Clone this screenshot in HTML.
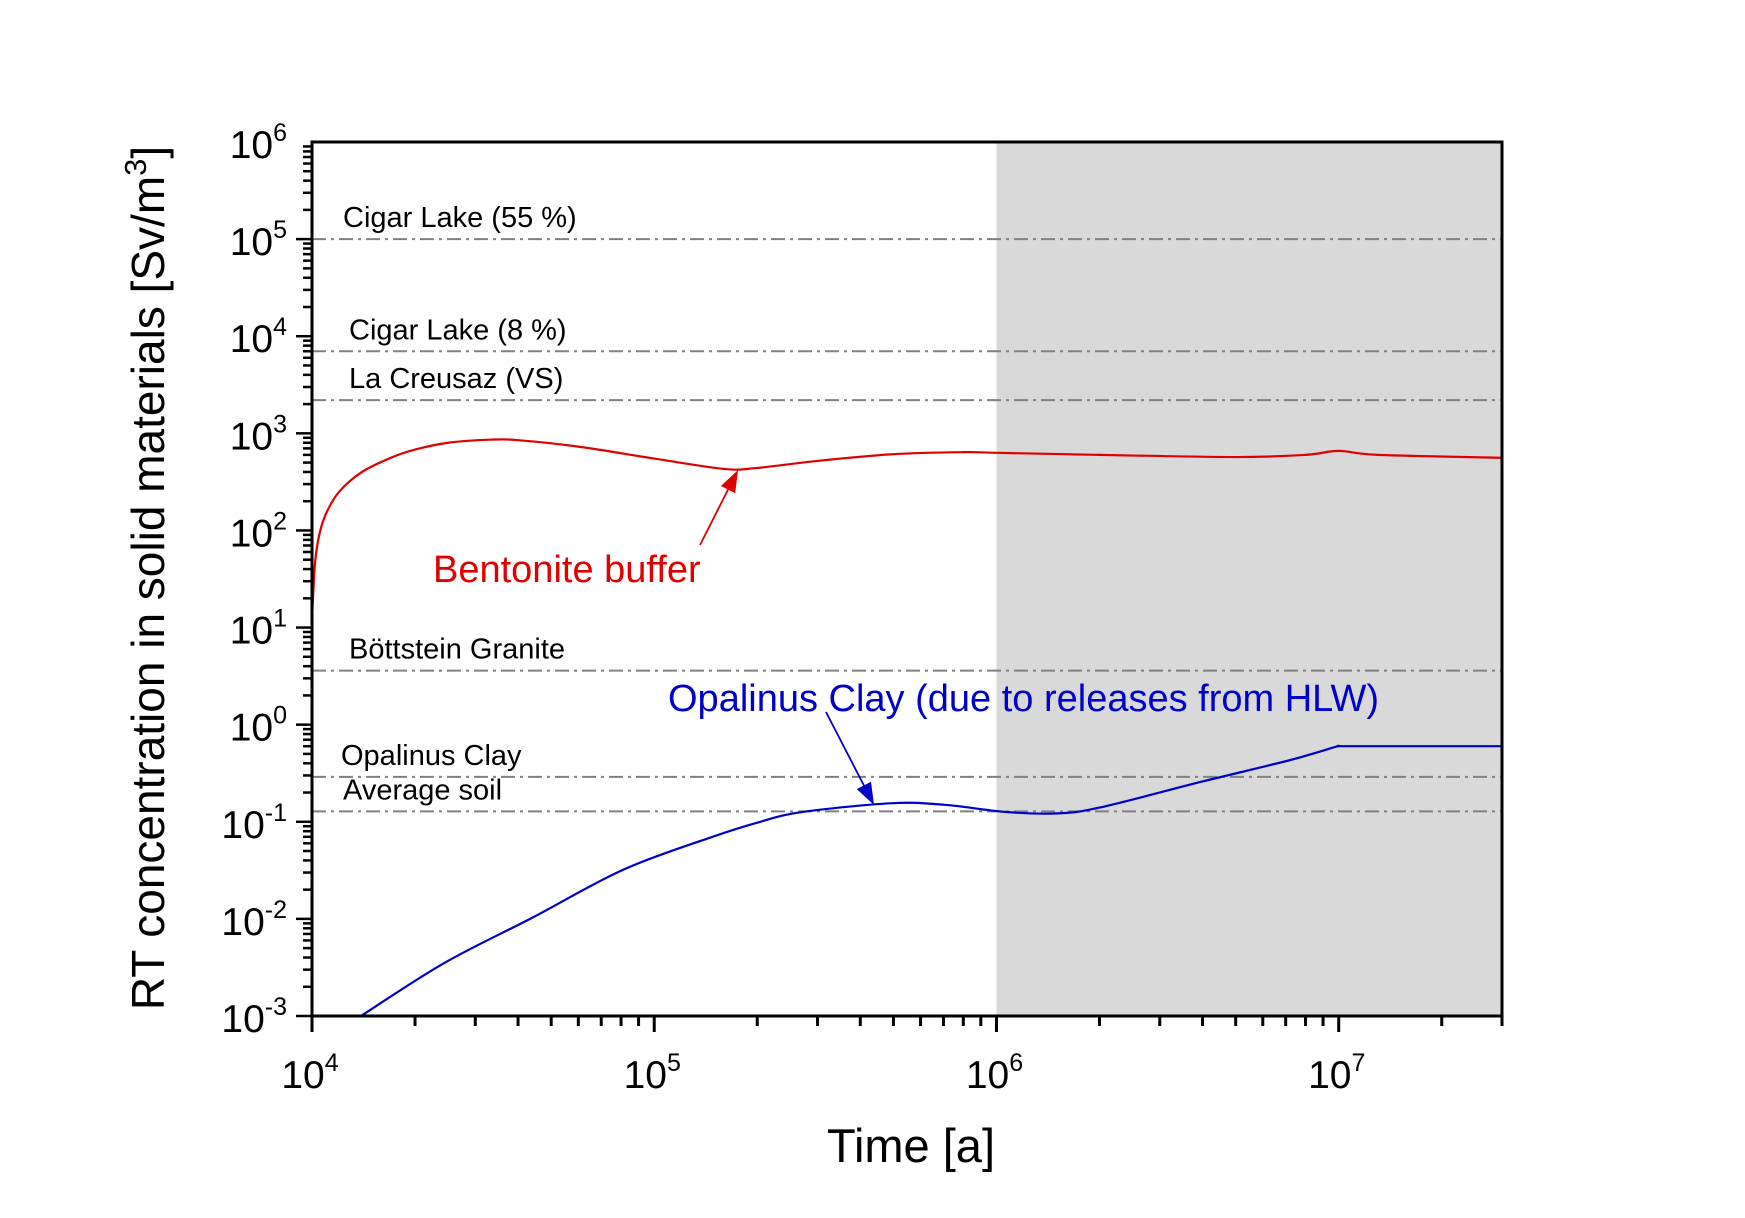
<!DOCTYPE html>
<html><head><meta charset="utf-8"><style>
html,body{margin:0;padding:0;background:#fff;}
svg{display:block;font-family:"Liberation Sans",Arial,sans-serif;}
</style></head><body>
<svg id="chart" width="1745" height="1218" viewBox="0 0 1745 1218" xmlns="http://www.w3.org/2000/svg">
<rect width="1745" height="1218" fill="#fff"/>
<g id="bg"></g>
<g id="refs"></g>
<g id="series"></g>
<g id="axes"></g>
<text transform="translate(164,578) rotate(-90)" text-anchor="middle" font-size="46" fill="#000">RT concentration in solid materials [Sv/m<tspan dy="-18" font-size="31">3</tspan><tspan dy="18">]</tspan></text>
<text x="911" y="1162" text-anchor="middle" font-size="47" fill="#000">Time [a]</text>
<text x="433" y="582" font-size="38" fill="#e00000">Bentonite buffer</text>
<text x="668" y="711" font-size="38" fill="#0000cc">Opalinus Clay (due to releases from HLW)</text>
</svg>
<script>
const refNames=["Cigar Lake (55 %)","Cigar Lake (8 %)","La Creusaz (VS)","Böttstein Granite","Opalinus Clay","Average soil"];
const refValues=[1e5,7e3,2.2e3,3.6,0.29,0.128];
const bentX=[1e4,1.02e4,1.05e4,1.1e4,1.2e4,1.4e4,1.7e4,2e4,2.5e4,3.3e4,4e4,6e4,1e5,1.6e5,2e5,3e5,5e5,8e5,1e6,2e6,5e6,8e6,1e7,1.3e7,3e7];
const bentY=[12,45,90,150,250,400,560,680,800,860,850,730,550,430,440,520,610,640,630,600,570,600,660,600,560];
const opalX=[1.39e4,2.43e4,4.43e4,8.1e4,1.48e5,2e5,2.7e5,4.9e5,7e5,1.07e6,1.5e6,2e6,4e6,7e6,9e6,1e7,1.1e7,3e7];
const opalY=[0.001,0.0035,0.0104,0.032,0.07,0.098,0.126,0.155,0.15,0.126,0.122,0.14,0.26,0.42,0.54,0.6,0.6,0.6];
const xTicks=[4,5,6,7];
const yTicks=[-3,-2,-1,0,1,2,3,4,5,6];
const NS="http://www.w3.org/2000/svg";
const L=312,R=1502,T=142,B=1016;
const xmin=4,xmax=Math.log10(3e7),ymin=-3,ymax=6;
const xs=v=>L+(Math.log10(v)-xmin)/(xmax-xmin)*(R-L);
const ys=v=>B-(Math.log10(v)-ymin)/(ymax-ymin)*(B-T);
function mk(tag,attrs,parent){const e=document.createElementNS(NS,tag);for(const k in attrs)e.setAttribute(k,attrs[k]);document.getElementById(parent).appendChild(e);return e;}
let sh=mk('rect',{x:xs(1e6),y:T,width:R-xs(1e6),height:B-T,fill:'#d9d9d9'},'bg');


const labX=[343,349,349,349,341,343];
refValues.forEach((v,i)=>{
 let ln=mk('line',{x1:L,x2:R,y1:ys(v),y2:ys(v),stroke:'#808080','stroke-width':2,'stroke-dasharray':'14,5,3,5'},'refs');
 
 
 let t=mk('text',{x:labX[i],y:ys(v)-12,'font-size':29,fill:'#000'},'refs');
 t.textContent=refNames[i];
 
 
});
function curve(X,Y,col,name){
 const p=X.map((x,i)=>[xs(x),ys(Y[i])]);
 let d='M'+p[0][0]+','+p[0][1];
 for(let i=0;i<p.length-1;i++){
  const p0=p[Math.max(0,i-1)],p1=p[i],p2=p[i+1],p3=p[Math.min(p.length-1,i+2)];
  const c1=[p1[0]+(p2[0]-p0[0])/6,p1[1]+(p2[1]-p0[1])/6];
  const c2=[p2[0]-(p3[0]-p1[0])/6,p2[1]-(p3[1]-p1[1])/6];
  d+=' C'+c1+' '+c2+' '+p2;
 }
 let e=mk('path',{d:d,fill:'none',stroke:col,'stroke-width':2.2},'series');
 
 
}
curve(bentX,bentY,'#e00000','bentonite-buffer-line');
curve(opalX,opalY,'#0000cc','opalinus-clay-line');
function arrow(x1,y1,x2,y2,col,name){
 const a=Math.atan2(y2-y1,x2-x1),len=22,w=8;
 let l=mk('line',{x1:x1,y1:y1,x2:x2-Math.cos(a)*len*0.8,y2:y2-Math.sin(a)*len*0.8,stroke:col,'stroke-width':1.8},'series');
 
 
 const bx=x2-Math.cos(a)*len,by=y2-Math.sin(a)*len;
 let h=mk('polygon',{points:`${x2},${y2} ${bx-Math.sin(a)*w},${by+Math.cos(a)*w} ${bx+Math.sin(a)*w},${by-Math.cos(a)*w}`,fill:col},'series');
 
 
}
arrow(700,545,738,470,'#e00000','bentonite-arrow');
arrow(826,712,874,805,'#0000cc','opalinus-arrow');
let fr=mk('rect',{x:L,y:T,width:R-L,height:B-T,fill:'none',stroke:'#000','stroke-width':3},'axes');


for(let e=4;e<=7;e++){for(let m=1;m<10;m++){const v=m*Math.pow(10,e);if(v>3e7)break;const x=xs(v);
 let t=mk('line',{x1:x,x2:x,y1:B,y2:B+(m==1?16:10),stroke:'#000','stroke-width':3},'axes');
 
 }}
xTicks.forEach(e=>{let t=mk('text',{x:xs(Math.pow(10,e))-2,y:B+72,'text-anchor':'middle','font-size':39,fill:'#000'},'axes');
 t.innerHTML='10<tspan dy="-17" font-size="25">'+e+'</tspan>';
 
 });
for(let e=-3;e<=5;e++){for(let m=1;m<10;m++){const y=ys(m*Math.pow(10,e));
 let t=mk('line',{x1:L-(m==1?16:9),x2:L,y1:y,y2:y,stroke:'#000','stroke-width':2.5},'axes');
 
 }}
yTicks.forEach(e=>{let t=mk('text',{x:L-25,y:ys(Math.pow(10,e))+16,'text-anchor':'end','font-size':39,fill:'#000'},'axes');
 t.innerHTML='10<tspan dy="-17" font-size="25">'+e+'</tspan>';
 
 });
</script>
</body></html>
